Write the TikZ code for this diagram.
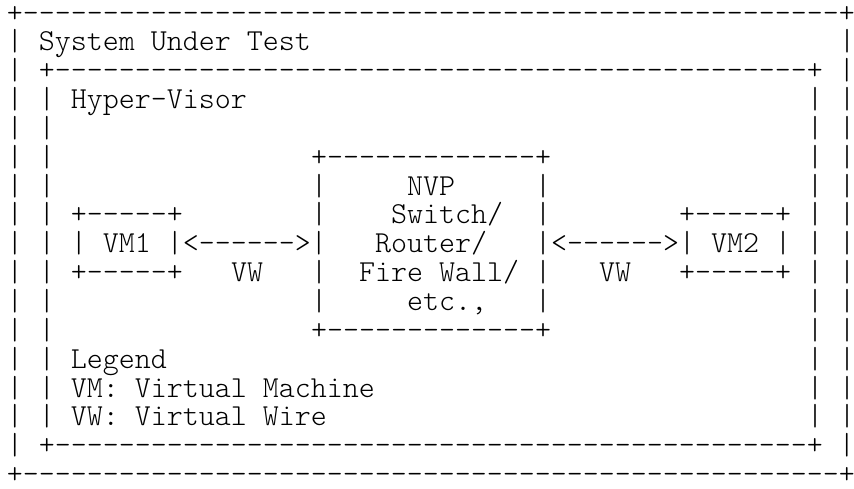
\documentclass[tikz,border=0pt]{standalone}
\usepackage{fontspec}
\setmonofont{lmmonolt10-regular.otf}
\ExplSyntaxOn
\NewExpandableDocumentCommand\dashes{m}{\prg_replicate:nn{#1}{-}}
\ExplSyntaxOff
% one character cell = 16px, one text row = 28.85px (1px = 0.75pt)
\newcommand\seg[4]{\node[asc] (#1) at ({7+16*#2},{-(22+28.85*(#3-1))}) {#4};}
\tikzset{asc/.style={anchor=base west, inner sep=0pt, outer sep=0pt, text=black,
  font=\ttfamily\fontsize{22.857pt}{27pt}\selectfont}}
\begin{document}
\begin{tikzpicture}[x=0.75pt,y=0.75pt]
\useasboundingbox (0,0) rectangle (854,-489);
% row 1
\seg{top}{0}{1}{+\dashes{51}+}
% row 2
\seg{sut}{0}{2}{| System Under Test}
\seg{r2r}{52}{2}{|}
% row 3
\seg{hvtop}{0}{3}{| +\dashes{47}+ |}
% row 4
\seg{hv}{0}{4}{| | Hyper-Visor}
\seg{r4r}{50}{4}{| |}
% row 5
\seg{r5l}{0}{5}{| |}
\seg{r5r}{50}{5}{| |}
% row 6
\seg{r6l}{0}{6}{| |}
\seg{nvptop}{19}{6}{+\dashes{13}+}
\seg{r6r}{50}{6}{| |}
% row 7
\seg{r7l}{0}{7}{| |}
\seg{r7a}{19}{7}{|}
\seg{nvp}{25}{7}{NVP}
\seg{r7b}{33}{7}{|}
\seg{r7r}{50}{7}{| |}
% row 8
\seg{vmtopa}{0}{8}{| | +\dashes{5}+}
\seg{r8a}{19}{8}{|}
\seg{switch}{24}{8}{Switch/}
\seg{r8b}{33}{8}{|}
\seg{vmtopb}{42}{8}{+\dashes{5}+ | |}
% row 9
\seg{vma}{0}{9}{| | | VM1 |<\dashes{6}>|}
\seg{router}{23}{9}{Router/}
\seg{vmb}{33}{9}{|<\dashes{6}>| VM2 | | |}
% row 10
\seg{vmbota}{0}{10}{| | +\dashes{5}+}
\seg{vwa}{14}{10}{VW}
\seg{r10a}{19}{10}{|}
\seg{fw}{22}{10}{Fire Wall/}
\seg{r10b}{33}{10}{|}
\seg{vwb}{37}{10}{VW}
\seg{vmbotb}{42}{10}{+\dashes{5}+ | |}
% row 11
\seg{r11l}{0}{11}{| |}
\seg{r11a}{19}{11}{|}
\seg{etc}{25}{11}{etc.,}
\seg{r11b}{33}{11}{|}
\seg{r11r}{50}{11}{| |}
% row 12
\seg{r12l}{0}{12}{| |}
\seg{nvpbot}{19}{12}{+\dashes{13}+}
\seg{r12r}{50}{12}{| |}
% row 13
\seg{legend}{0}{13}{| | Legend}
\seg{r13r}{50}{13}{| |}
% row 14
\seg{vmdef}{0}{14}{| | VM: Virtual Machine}
\seg{r14r}{50}{14}{| |}
% row 15
\seg{vwdef}{0}{15}{| | VW: Virtual Wire}
\seg{r15r}{50}{15}{| |}
% row 16
\seg{hvbot}{0}{16}{| +\dashes{47}+ |}
% row 17
\seg{bot}{0}{17}{+\dashes{51}+}
\end{tikzpicture}
\end{document}
